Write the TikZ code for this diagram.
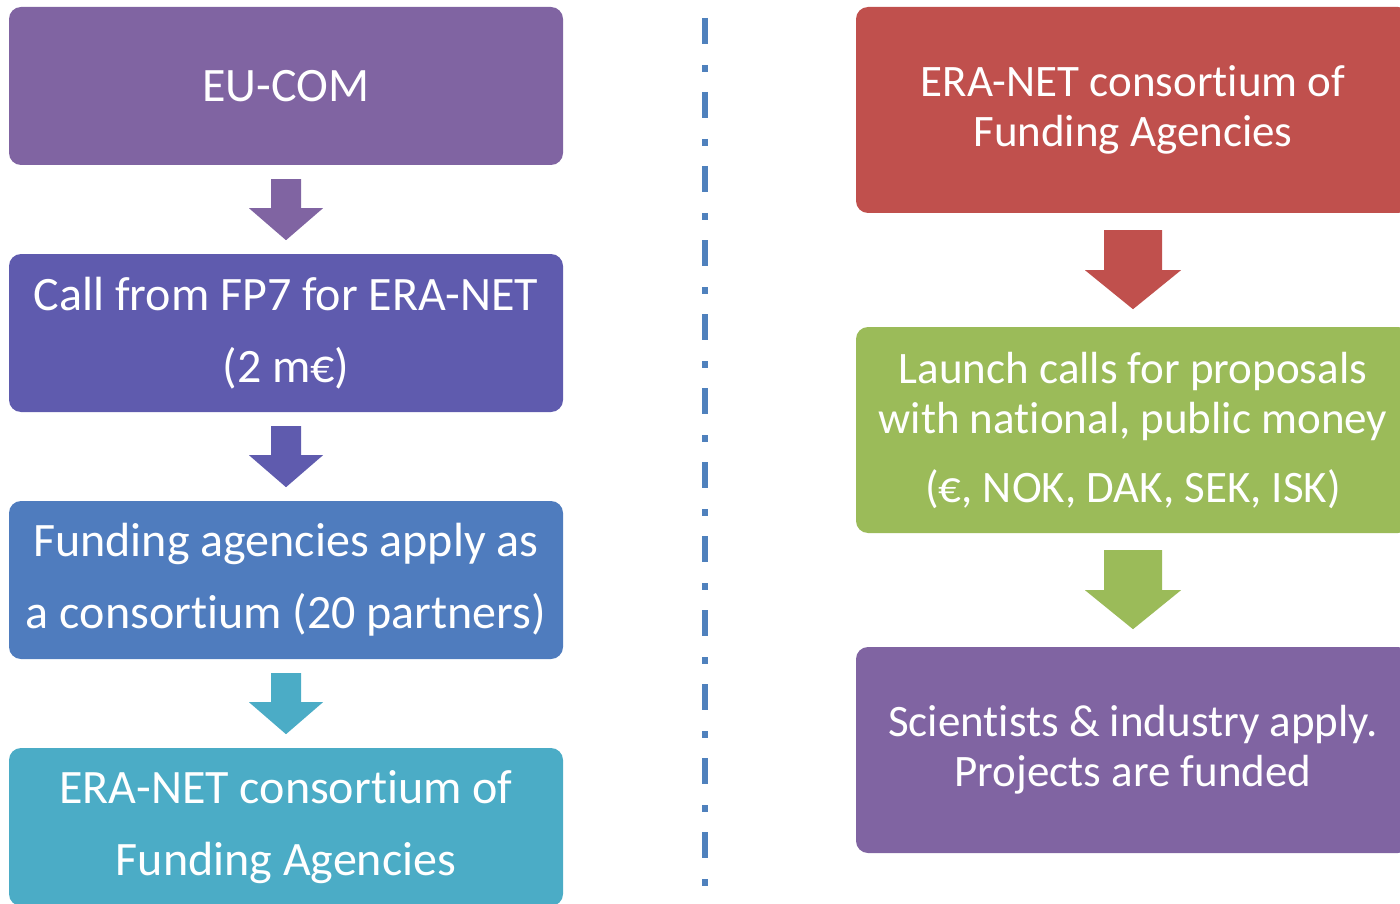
\documentclass[tikz,border=0pt]{standalone}
\usepackage{fontspec}
\setmainfont{Carlito}[Ligatures=NoCommon]
\definecolor{eucom}{HTML}{8064A2}
\definecolor{fpcall}{HTML}{5F5BAE}
\definecolor{apply}{HTML}{4F7CBE}
\definecolor{eranet}{HTML}{4BACC6}
\definecolor{consort}{HTML}{C0504D}
\definecolor{launch}{HTML}{9BBB59}
\definecolor{funded}{HTML}{8064A2}
\definecolor{sepline}{HTML}{4F81BD}

\begin{document}
\begin{tikzpicture}[x=1pt,y=-1pt,
    leftbox/.style={rectangle,rounded corners=12pt,minimum width=554pt,
      minimum height=158pt,inner sep=0pt,text=white,align=center,
      font=\fontsize{48}{72}\selectfont},
    rightbox/.style={rectangle,rounded corners=12pt,minimum width=554pt,
      minimum height=206pt,inner sep=0pt,text=white,align=center,
      font=\fontsize{45}{50}\selectfont}]
  \useasboundingbox (0,0) rectangle (1400,904);
  % block arrows below a box
  \def\arrsmall{+(-15,14) -- +(15,14) -- +(15,43) -- +(37,43)
    -- +(0,75) -- +(-37,43) -- +(-15,43) -- cycle}
  \def\arrbig{+(-29,17) -- +(29,17) -- +(29,57) -- +(48,57)
    -- +(0,96) -- +(-48,57) -- +(-29,57) -- cycle}

  % left column
  \node[leftbox,fill=eucom] (eu) at (286,86) {EU-COM};
  \node[leftbox,fill=fpcall] (call) at (286,333) {Call from FP7 for ERA-NET\\(2 m€)};
  \node[leftbox,fill=apply] (agencies) at (286,580) {Funding agencies apply as\\a consortium (20 partners)};
  \node[leftbox,fill=eranet] (era) at (286,827) {ERA-NET consortium of\\Funding Agencies};
  \fill[eucom] (eu.south) \arrsmall;
  \fill[fpcall] (call.south) \arrsmall;
  \fill[eranet] (agencies.south) \arrsmall;

  % separator
  \coordinate (septop) at (705,18);
  \coordinate (sepbot) at (705,904);
  \draw[sepline,line width=6pt,dash pattern=on 26pt off 21pt on 7pt off 20pt]
    (septop) -- (sepbot);

  % right column
  \node[rightbox,fill=consort] (cons) at (1133,110) {ERA-NET consortium of\\Funding Agencies};
  \node[rightbox,fill=launch] (launch) at (1133,430) {Launch calls for proposals\\with national, public money\\[19pt](€, NOK, DAK, SEK, ISK)};
  \node[rightbox,fill=funded] (proj) at (1133,750) {Scientists \& industry apply.\\Projects are funded};
  \fill[consort] (cons.south) \arrbig;
  \fill[launch] (launch.south) \arrbig;
\end{tikzpicture}
\end{document}
